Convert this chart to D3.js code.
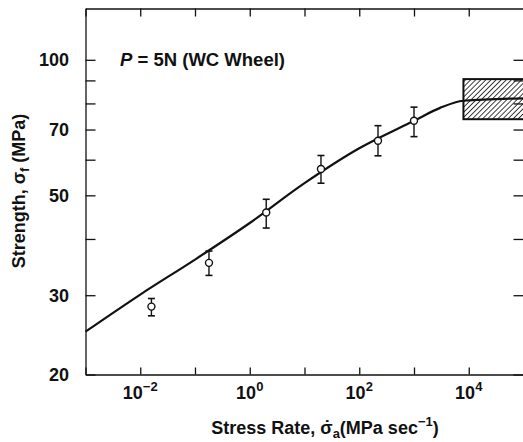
<!DOCTYPE html>
<html>
<head>
<meta charset="utf-8">
<script src="https://cdn.jsdelivr.net/npm/d3@7"></script>
<style>
  body { margin: 0; background: #fff; }
  svg { display: block; font-family: "Liberation Sans", Arial, sans-serif; }
</style>
</head>
<body>
<div id="chart"></div>
<script>
// measured points (stress rate in MPa/s, strength in MPa)
var rates = [0.016, 0.18, 2, 20, 220, 1000];
var strength = [28.3, 35.4, 45.8, 57.2, 66.1, 73.2];
var errLow = [27.0, 33.2, 42.3, 53.2, 61.2, 67.5];
var errHigh = [29.5, 37.6, 49.0, 61.3, 71.4, 78.5];

// fitted curve
var curveRates = [1e-3, 1e-2, 1e-1, 1, 10, 100, 1000, 3000, 8000, 1e5];
var curveStrength = [24.9, 30.1, 36.0, 43.4, 53.2, 63.6, 73.2, 78.2, 81.1, 82.1];

// hatched band (inert strength range)
var bandRates = [8000, 3e5];
var bandStrength = [73.8, 90.6];

var xTicks = [1e-3, 1e-2, 1e-1, 1, 10, 100, 1e3, 1e4, 1e5];
var xLabelTicks = [1e-2, 1, 100, 1e4];
var yTicks = [20, 30, 40, 50, 60, 70, 80, 90, 100];
var yLabelTicks = [20, 30, 50, 70, 100];

var W = 523, H = 442;
var svg = d3.select('#chart').append('svg')
  .attr('width', W)
  .attr('height', H);

var x = d3.scaleLog().domain([1e-3, 1e5]).range([85.5, 523.5]);
var y = d3.scaleLog().domain([20, 130]).range([374.5, 8.5]);

var ink = '#111';

// hatch pattern
var defs = svg.append('defs');
defs.append('pattern')
  .attr('id', 'hatch')
  .attr('patternUnits', 'userSpaceOnUse')
  .attr('width', 3.6)
  .attr('height', 3.6)
  .attr('patternTransform', 'rotate(45)')
  .append('line')
  .attr('x1', 0).attr('y1', 0)
  .attr('x2', 0).attr('y2', 3.6)
  .attr('stroke', ink)
  .attr('stroke-width', 1.6);

// axes
var axBottom = svg.append('g')
  .attr('transform', 'translate(0,' + y(20) + ')')
  .call(d3.axisBottom(x).tickValues(xTicks).tickSizeInner(-7).tickSizeOuter(0).tickFormat(''));
var axTop = svg.append('g')
  .attr('transform', 'translate(0,' + y(130) + ')')
  .call(d3.axisTop(x).tickValues(xTicks).tickSizeInner(-8).tickSizeOuter(0).tickFormat(''));
var axLeft = svg.append('g')
  .attr('transform', 'translate(' + x(1e-3) + ',0)')
  .call(d3.axisLeft(y).tickValues(yTicks).tickSizeInner(-10).tickSizeOuter(0).tickFormat(''));
var axRight = svg.append('g')
  .attr('transform', 'translate(' + x(1e5) + ',0)')
  .call(d3.axisRight(y).tickValues(yTicks).tickSizeInner(-10).tickSizeOuter(0).tickFormat(''));
axRight.select('.domain').remove();

[axBottom, axTop, axLeft, axRight].forEach(function (g) {
  g.selectAll('.domain').attr('stroke', ink).attr('stroke-width', 1.3);
  g.selectAll('.tick line').attr('stroke', ink).attr('stroke-width', 1.3);
});

// y tick labels
svg.append('g').selectAll('text')
  .data(yLabelTicks)
  .enter().append('text')
  .attr('x', 69)
  .attr('y', function (d) { return y(d); })
  .attr('dy', '0.36em')
  .attr('text-anchor', 'end')
  .attr('font-size', 18)
  .attr('font-weight', 'bold')
  .attr('fill', ink)
  .text(function (d) { return d; });

// x tick labels with superscript exponent
var xl = svg.append('g').selectAll('text')
  .data(xLabelTicks)
  .enter().append('text')
  .attr('x', function (d) { return x(d); })
  .attr('y', 399)
  .attr('text-anchor', 'middle')
  .attr('font-size', 18)
  .attr('font-weight', 'bold')
  .attr('fill', ink);
xl.append('tspan').text('10');
xl.append('tspan')
  .attr('dy', -8)
  .attr('font-size', 13)
  .text(function (d) { return String(Math.round(Math.log10(d))).replace('-', '\u2212'); });

// hatched band
svg.append('rect')
  .attr('x', x(bandRates[0]))
  .attr('y', y(bandStrength[1]))
  .attr('width', x(bandRates[1]) - x(bandRates[0]))
  .attr('height', y(bandStrength[0]) - y(bandStrength[1]))
  .attr('fill', 'url(#hatch)')
  .attr('stroke', ink)
  .attr('stroke-width', 2);

// fitted curve
var line = d3.line()
  .x(function (d) { return x(d[0]); })
  .y(function (d) { return y(d[1]); })
  .curve(d3.curveMonotoneX);
svg.append('path')
  .datum(d3.zip(curveRates, curveStrength))
  .attr('d', line)
  .attr('fill', 'none')
  .attr('stroke', ink)
  .attr('stroke-width', 2.2);

// error bars and points
var pts = svg.append('g').selectAll('g')
  .data(d3.range(rates.length))
  .enter().append('g');
pts.append('line')
  .attr('x1', function (i) { return x(rates[i]); })
  .attr('x2', function (i) { return x(rates[i]); })
  .attr('y1', function (i) { return y(errLow[i]); })
  .attr('y2', function (i) { return y(errHigh[i]); })
  .attr('stroke', ink).attr('stroke-width', 1.4);
[errLow, errHigh].forEach(function (arr) {
  pts.append('line')
    .attr('x1', function (i) { return x(rates[i]) - 3.5; })
    .attr('x2', function (i) { return x(rates[i]) + 3.5; })
    .attr('y1', function (i) { return y(arr[i]); })
    .attr('y2', function (i) { return y(arr[i]); })
    .attr('stroke', ink).attr('stroke-width', 1.6);
});
pts.append('circle')
  .attr('cx', function (i) { return x(rates[i]); })
  .attr('cy', function (i) { return y(strength[i]); })
  .attr('r', 3.5)
  .attr('fill', '#fff')
  .attr('stroke', ink)
  .attr('stroke-width', 1.4);

// annotation
var ann = svg.append('text')
  .attr('x', 120)
  .attr('y', 66)
  .attr('font-size', 18.5)
  .attr('font-weight', 'bold')
  .attr('fill', ink);
ann.append('tspan').attr('font-style', 'italic').text('P');
ann.append('tspan').text(' = 5N (WC Wheel)');

// x axis title (sigma with a dot placed over it)
var xt = svg.append('text')
  .attr('x', 325)
  .attr('y', 434)
  .attr('text-anchor', 'middle')
  .attr('font-size', 18)
  .attr('font-weight', 'bold')
  .attr('fill', ink);
xt.append('tspan').text('Stress Rate, \u03c3');
xt.append('tspan').attr('dx', -8.5).text('\u02d9');
xt.append('tspan').attr('dx', 2.5).attr('dy', 4).attr('font-size', 13).text('a');
xt.append('tspan').attr('dy', -4).text('(MPa sec');
xt.append('tspan').attr('dy', -8).attr('font-size', 13).text('\u22121');
xt.append('tspan').attr('dy', 8).text(')');

// y axis title
var yt = svg.append('text')
  .attr('transform', 'translate(25,191) rotate(-90)')
  .attr('text-anchor', 'middle')
  .attr('font-size', 18)
  .attr('font-weight', 'bold')
  .attr('fill', ink);
yt.append('tspan').text('Strength, \u03c3');
yt.append('tspan').attr('dy', 4).attr('font-size', 13).text('f');
yt.append('tspan').attr('dy', -4).text(' (MPa)');
</script>
</body>
</html>
